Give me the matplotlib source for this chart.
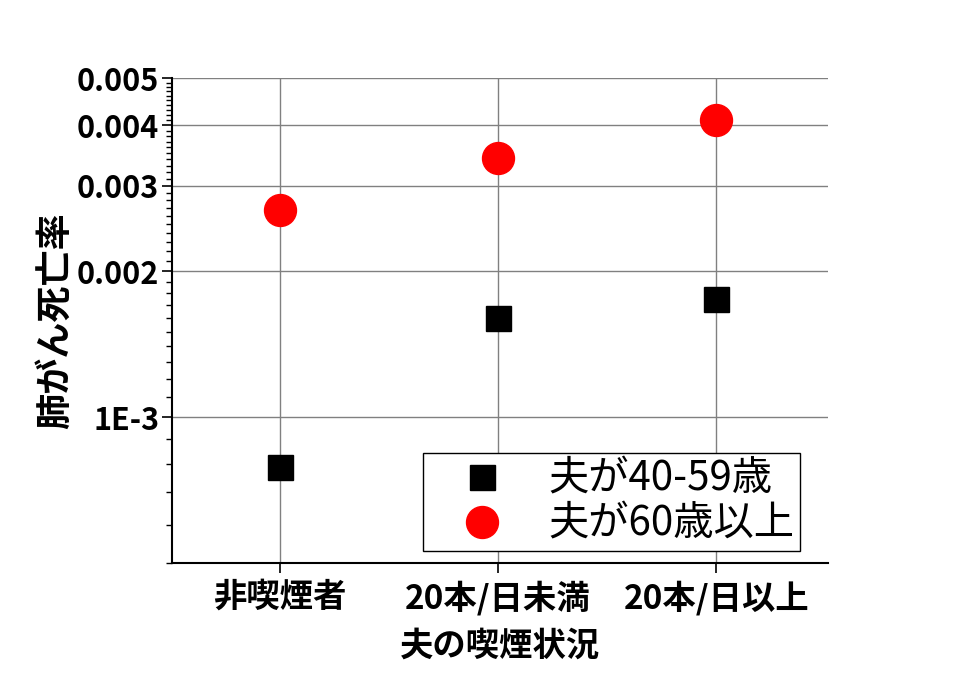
import numpy as np
import matplotlib.pyplot as plt
from matplotlib.ticker import FixedLocator, FixedFormatter

plt.rcParams['font.family'] = ['Noto Sans CJK JP', 'DejaVu Sans']

categories = ['非喫煙者', '20本/日未満', '20本/日以上']
age_40_59 = [0.00079, 0.00160, 0.00175]
age_60_up = [0.00268, 0.00342, 0.00411]
series_labels = ['夫が40-59歳', '夫が60歳以上']

major_ticks = [0.001, 0.002, 0.003, 0.004, 0.005]
major_labels = ['1E-3', '0.002', '0.003', '0.004', '0.005']

fig = plt.figure(figsize=(9.6, 6.75), dpi=100)
ax = fig.add_axes([0.179, 0.166, 0.684, 0.718])

x = np.arange(len(categories))
ax.plot(x, age_40_59, 's', color='black', markersize=18, linestyle='none',
        label=series_labels[0], zorder=3)
ax.plot(x, age_60_up, 'o', color='red', markersize=23, linestyle='none',
        label=series_labels[1], zorder=3)

ax.set_yscale('log')
ax.set_ylim(0.0005, 0.005)
ax.set_xlim(-0.495, 2.514)

ax.yaxis.set_major_locator(FixedLocator(major_ticks))
ax.yaxis.set_major_formatter(FixedFormatter(major_labels))
minor = [m * 1e-4 for m in range(5, 10)] + [m * 1e-4 for m in range(11, 50) if m % 10 != 0]
ax.yaxis.set_minor_locator(FixedLocator(minor))
ax.yaxis.set_minor_formatter(FixedFormatter([]))

ax.set_xticks(x)
ax.set_xticklabels(categories, fontsize=24, fontweight='bold')
for lab in ax.get_yticklabels():
    lab.set_fontsize(22)
    lab.set_fontweight('bold')

ax.tick_params(axis='both', which='major', direction='out', length=7, width=1.2)
ax.tick_params(axis='y', which='minor', direction='out', length=4, width=1)
ax.tick_params(axis='x', pad=6)
ax.tick_params(axis='y', pad=2)

ax.grid(True, which='major', color='#808080', linewidth=1)
ax.set_axisbelow(True)

ax.spines['top'].set_visible(False)
ax.spines['right'].set_visible(False)
ax.spines['left'].set_linewidth(1.5)
ax.spines['bottom'].set_linewidth(1.5)

ax.set_xlabel('夫の喫煙状況', fontsize=24, fontweight='bold', labelpad=10)
ax.set_ylabel('肺がん死亡率', fontsize=26, fontweight='bold', labelpad=2)

leg = ax.legend(loc='lower right', bbox_to_anchor=(0.957, 0.025), fontsize=29,
                frameon=True, fancybox=False, edgecolor='black',
                framealpha=1, borderpad=0.15, handletextpad=0.35,
                handlelength=2.6, labelspacing=0.1, markerscale=1,
                borderaxespad=0)
leg.get_frame().set_linewidth(1)

fig.savefig('out.png', dpi=100)
